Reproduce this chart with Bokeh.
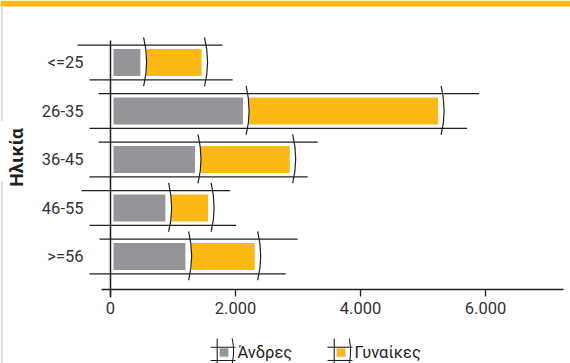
from bokeh.plotting import figure
from bokeh.models import Range1d, LinearAxis, FixedTicker, ColumnDataSource
from bokeh.core.properties import value
from bokeh.embed import file_html
from bokeh.resources import INLINE

# ---------------- data ----------------
age_groups = ["<=25", "26-35", "36-45", "46-55", ">=56"]
men = [530, 2170, 1400, 930, 1250]
women = [975, 3120, 1515, 680, 1105]
x_ticks = [0, 2000, 4000, 6000]
x_tick_labels = ["0", "2.000", "4.000", "6.000"]
series_names = ["Άνδρες", "Γυναίκες"]
series_colors = ["#939598", "#FDB913"]
y_title = "Ηλικία"

# hand-drawn "sketch" decoration offsets (pixels)
top_start_px = [77, 98, 98, 81, 99]
top_ext_px = [18, 38, 25, 19, 40]
bot_start_px = [89, 89, 89, 89, 89]
bot_ext_px = [28, 26, 15, 25, 28]

FONT = "Roboto"
INK = "#231f20"

# ---------------- geometry helpers ----------------
W, H = 570, 363
PX = 16.0      # data units per pixel on x
X0 = 110       # pixel column of x = 0
Y0 = 62        # pixel row of first category
ROW = 48.5     # pixels between categories


def dx(px):
    return (px - X0) * PX


def dy(py):
    return (py - Y0) / ROW


idx = list(range(len(age_groups)))
total = [m + w for m, w in zip(men, women)]

p = figure(width=W, height=H, output_backend="svg", toolbar_location=None,
           x_range=Range1d(dx(0), dx(W)), y_range=Range1d(dy(H), dy(0)),
           x_axis_type=None, y_axis_type=None,
           min_border=0, min_border_left=0, min_border_right=0,
           min_border_top=0, min_border_bottom=0)
p.outline_line_color = None
p.background_fill_color = "white"
p.border_fill_color = "white"

# top yellow band and left grey strip
p.quad(left=[dx(0)], right=[dx(W)], top=[dy(0)], bottom=[dy(6)],
       fill_color="#FDB913", line_color=None)
p.quad(left=[dx(0), dx(0)], right=[dx(2.5), dx(2.5)], top=[dy(6), dy(181)],
       bottom=[dy(121), dy(H)], fill_color="#e2e2e2", line_color=None)

src = ColumnDataSource(dict(y=idx, men=men, total=total))

# bars
p.hbar(y="y", left=0, right="men", height=0.68, source=src,
       fill_color=series_colors[0], line_color="white", line_width=6)
p.hbar(y="y", left="men", right="total", height=0.68, source=src,
       fill_color=series_colors[1], line_color="white", line_width=6)

# sketch horizontal lines
off = 17.3 / ROW
p.segment(x0=[dx(s) for s in top_start_px],
          x1=[t + e * PX for t, e in zip(total, top_ext_px)],
          y0=[i - off for i in idx], y1=[i - off for i in idx],
          line_color=INK, line_width=1.3)
p.segment(x0=[dx(s) for s in bot_start_px],
          x1=[t + e * PX for t, e in zip(total, bot_ext_px)],
          y0=[i + off for i in idx], y1=[i + off for i in idx],
          line_color=INK, line_width=1.3)

# sketch arcs at divisions and ends
arc_x = men + total
arc_y = idx + idx
p.quadratic(x0=arc_x, y0=[i - 0.52 for i in arc_y], x1=arc_x, y1=[i + 0.49 for i in arc_y],
            cx=[x + 6 * PX for x in arc_x], cy=arc_y, line_color=INK, line_width=1.2)

# vertical sketch line at zero
p.segment(x0=[0], x1=[0], y0=[dy(40)], y1=[dy(297)], line_color=INK, line_width=1.5)

# x axis
xaxis = LinearAxis(ticker=FixedTicker(ticks=x_ticks), fixed_location=dy(289),
                   bounds=(dx(101), dx(563)),
                   major_label_overrides={t: l for t, l in zip(x_ticks, x_tick_labels)},
                   major_tick_in=0, major_tick_out=7, minor_tick_in=0, minor_tick_out=0,
                   axis_line_color=INK, axis_line_width=1.5,
                   major_tick_line_color=INK, major_tick_line_width=1.3,
                   major_label_text_font=FONT, major_label_text_font_size="16.5px",
                   major_label_text_color="#333333", major_label_standoff=5)
p.add_layout(xaxis, "below")

# y axis (category labels)
yaxis = LinearAxis(ticker=FixedTicker(ticks=idx), fixed_location=0,
                   bounds=(dy(40), dy(274)),
                   major_label_overrides={i: g for i, g in zip(idx, age_groups)},
                   axis_line_color=None, major_tick_line_color=None,
                   major_tick_in=0, major_tick_out=0, minor_tick_in=0, minor_tick_out=0,
                   major_label_text_font=FONT, major_label_text_font_size="16.5px",
                   major_label_text_color="#333333", major_label_standoff=27,
                   axis_label=y_title, axis_label_text_font=FONT,
                   axis_label_text_font_style="bold", axis_label_text_font_size="19px",
                   axis_label_text_color=INK, axis_label_standoff=11)
p.add_layout(yaxis, "left")

# legend (sketch icons)
leg_cx = [223.5, 340.5]
leg_cy = 352
for cx, name, col in zip(leg_cx, series_names, series_colors):
    p.quad(left=[dx(cx - 4.5)], right=[dx(cx + 4.5)], top=[dy(leg_cy - 4.5)], bottom=[dy(leg_cy + 4.5)],
           fill_color=col, line_color="#dddddd", line_width=1)
    p.segment(x0=[dx(cx - 13.5), dx(cx - 13.5), dx(cx - 6.8)],
              x1=[dx(cx + 11.5), dx(cx + 11.5), dx(cx - 6.8)],
              y0=[dy(346.7), dy(360), dy(338)], y1=[dy(346.7), dy(360), dy(363)],
              line_color=INK, line_width=1.1)
    p.quadratic(x0=[dx(cx + 8.2)], y0=[dy(338)], x1=[dx(cx + 8.2)], y1=[dy(363)],
                cx=[dx(cx + 11)], cy=[dy(350.5)], line_color=INK, line_width=1.1)
    p.text(x=[dx(cx + 13.5)], y=[dy(leg_cy)], text=[name], text_font=value(FONT),
           text_font_size="16.5px", text_color=INK, text_baseline="middle", text_align="left")

open("out.html", "w").write(file_html(p, INLINE))
